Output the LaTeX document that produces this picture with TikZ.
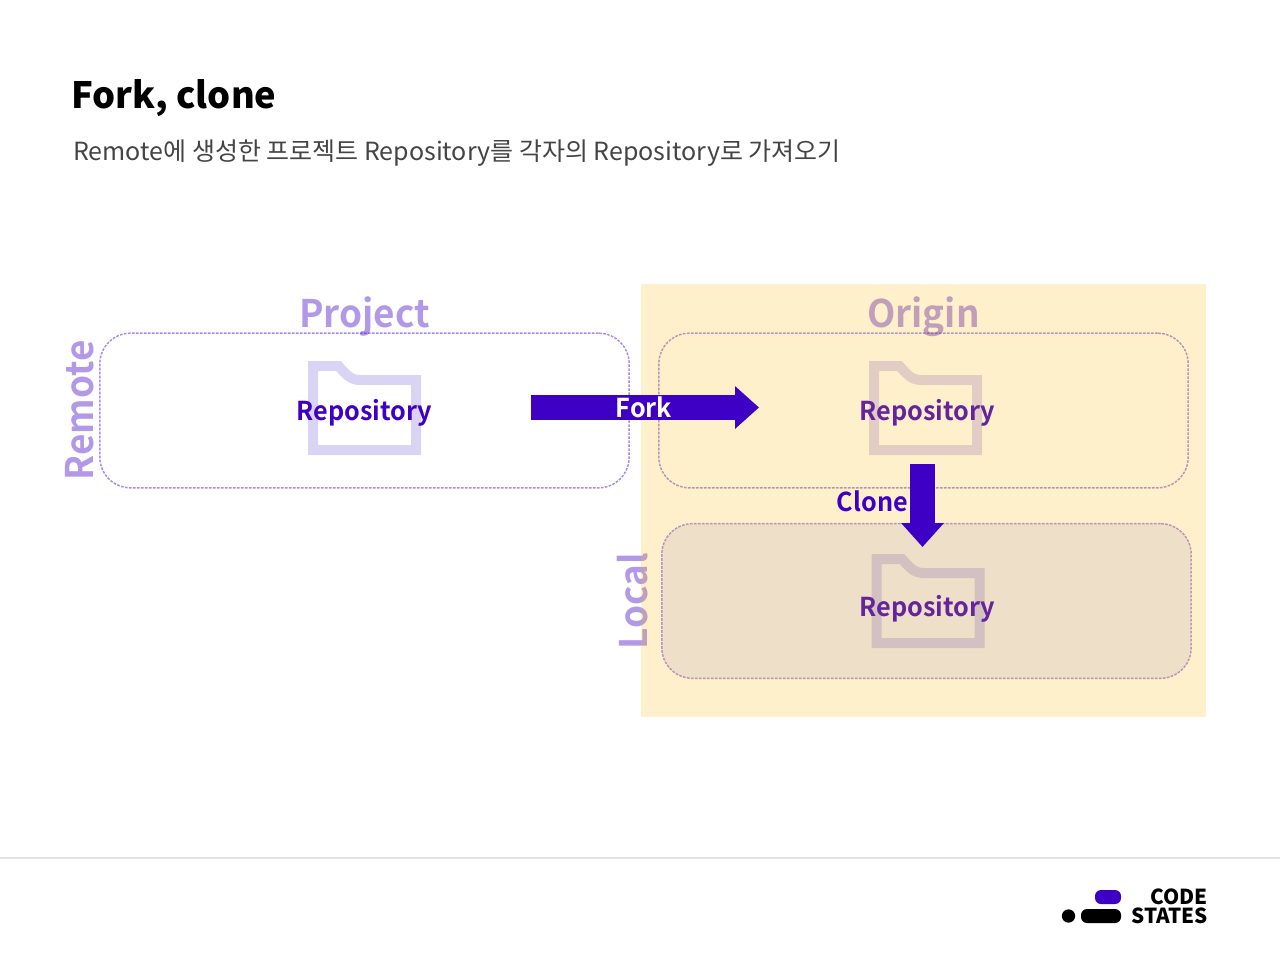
\documentclass[tikz,border=0pt]{standalone}
\usepackage{fontspec}
\setmainfont{Noto Sans CJK KR}
\newfontfamily\labelfont[FakeStretch=0.97]{Noto Sans CJK KR Bold}
\usetikzlibrary{arrows.meta}
\definecolor{codePurple}{HTML}{3F00C6}
\definecolor{folderBlue}{HTML}{4428C8}
\definecolor{originYellow}{HTML}{FFB400}
\definecolor{localFill}{HTML}{EAEAFA}
\definecolor{ruleGray}{HTML}{E2E2E2}
\definecolor{subGray}{HTML}{444444}
\begin{document}
\begin{tikzpicture}[x=0.75pt, y=-0.75pt]
	% Node styles
	\tikzstyle{group} = [rectangle, draw=codePurple!45, dash pattern=on 2pt off 1pt, line width=1.1pt, minimum width=397pt, minimum height=116pt, rounded corners=23pt, outer sep=0pt]
	\tikzstyle{folderbox} = [rectangle, minimum width=84.75pt, minimum height=70.5pt, inner sep=0pt, outer sep=0pt]
	\tikzstyle{heading} = [anchor=base, font=\labelfont\fontsize{28.5}{32}\selectfont, text=codePurple, text opacity=0.4, inner sep=0pt]
	\tikzstyle{repo} = [anchor=base, font=\labelfont\fontsize{19.5}{22}\selectfont, text=codePurple, inner sep=0pt]
	\tikzstyle{flow} = [line width=18.75pt, draw=codePurple, -{Triangle[length=18pt, width=31pt]}]
	\tikzset{folder/.pic={
		\draw[folderBlue, draw opacity=0.2, line width=7.5pt, miter limit=10] (-51.5,-41.5) -- (-26,-41.5) .. controls (-18,-32.5) and (-14,-27.5) .. (-4,-27.5) -- (51.5,-27.5) -- (51.5,42.5) -- (-51.5,42.5) -- cycle;
	}}

	\useasboundingbox (0,0) rectangle (1280,960);

	% Title
	\node[anchor=base west, inner sep=0pt, font=\bfseries\fontsize{27.2}{32}\selectfont] (title) at (71,108.5) {Fork, clone};
	\node[anchor=base west, inner sep=0pt, font=\fontsize{18.75}{24}\selectfont, text=subGray] (subtitle) at (73,160.5) {Remote에 생성한 프로젝트 Repository를 각자의 Repository로 가져오기};

	% Groups
	\node[group] (projectBox) at (364.5,410.5) {};
	\node[group] (originBox) at (923.5,410.5) {};
	\node[group, fill=localFill] (localBox) at (926.5,601) {};

	% Folders
	\node[folderbox] (folderProject) at (364.5,407.5) {};
	\node[folderbox] (folderOrigin) at (925.5,407.5) {};
	\node[folderbox] (folderLocal) at (928,600.5) {};
	\pic at (folderProject) {folder};
	\pic at (folderOrigin) {folder};
	\pic at (folderLocal) {folder};

	% Labels
	\node[heading] (project) at (364.5,327.5) {Project};
	\node[heading] (origin) at (923.5,327.5) {Origin};
	\node[heading, rotate=90] (remote) at (93,410.5) {Remote};
	\node[heading, rotate=90] (local) at (647.5,601) {Local};
	\node[repo] (repoProject) at (364.5,420.5) {Repository};
	\node[repo] (repoOrigin) at (927.5,420.5) {Repository};
	\node[repo] (repoLocal) at (927.5,616) {Repository};

	% Highlight over the right side
	\fill[originYellow, fill opacity=0.2] (641,284) rectangle (1206,717);

	% Arrows
	\draw[flow, shorten <=82.5pt, shorten >=82.5pt] (folderProject) -- (folderOrigin);
	\coordinate (cloneStart) at (922.5,464);
	\coordinate (cloneEnd) at (922.5,547);
	\draw[flow] (cloneStart) -- (cloneEnd);
	\node[repo, text=white] (fork) at (644,417) {Fork};
	\node[repo] (clone) at (872.5,511.5) {Clone};

	% Footer
	\draw[ruleGray, line width=1.5pt] (0,858) -- (1280,858);
	\fill[codePurple, rounded corners=4.5pt] (1095,890) rectangle (1121,904);
	\fill[black] (1068.5,916) circle (5pt);
	\fill[black, rounded corners=4.5pt] (1081,909) rectangle (1121,923);
	\node[anchor=base east, inner sep=0pt, font=\bfseries\fontsize{15.5}{18}\selectfont] (logoCode) at (1208,904.5) {CODE};
	\node[anchor=base east, inner sep=0pt, font=\bfseries\fontsize{15.5}{18}\selectfont] (logoStates) at (1208,923.5) {STATES};
\end{tikzpicture}
\end{document}
